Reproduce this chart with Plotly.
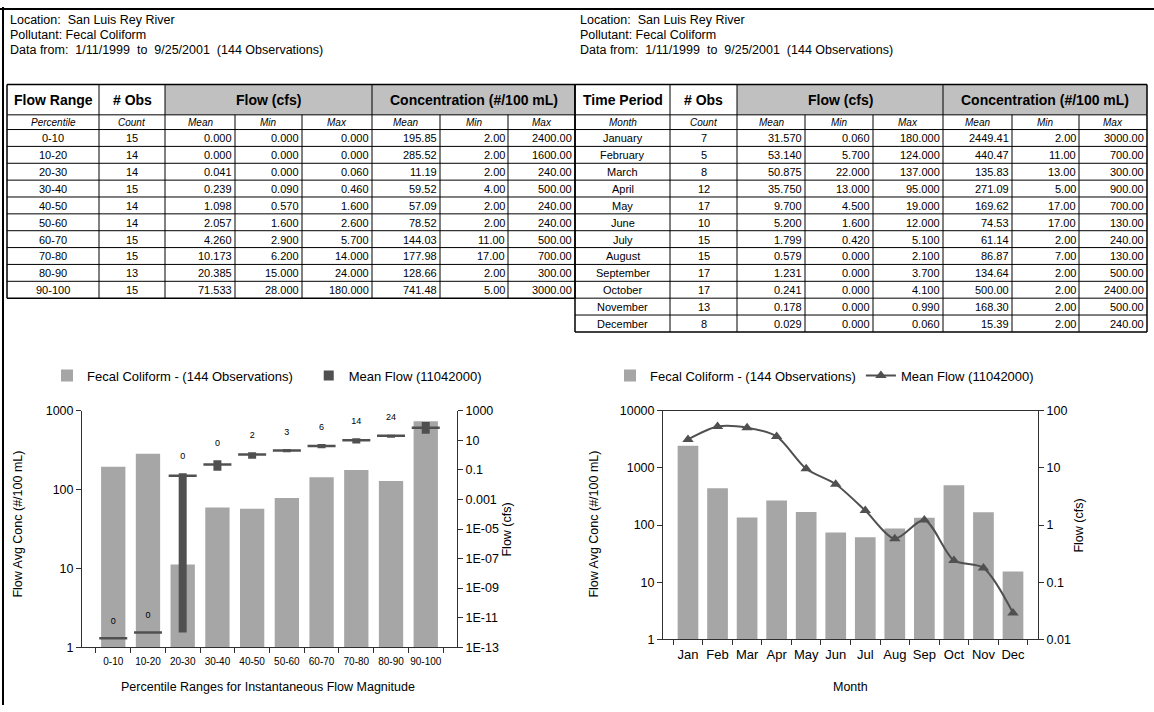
import plotly.graph_objects as go

W, H = 1154, 712
FONT = "Liberation Sans, Arial, sans-serif"

# ------------------------------------------------------------------ data
info_lines = ["Location:\u00a0 San Luis Rey River",
              "Pollutant: Fecal Coliform",
              "Data from:\u00a0 1/11/1999\u00a0 to\u00a0 9/25/2001\u00a0 (144 Observations)"]

flow_ranges = ["0-10", "10-20", "20-30", "30-40", "40-50", "50-60", "60-70", "70-80", "80-90", "90-100"]
fr_obs = [15, 14, 14, 15, 14, 14, 15, 15, 13, 15]
fr_flow_mean = [0.000, 0.000, 0.041, 0.239, 1.098, 2.057, 4.260, 10.173, 20.385, 71.533]
fr_flow_min = [0.000, 0.000, 0.000, 0.090, 0.570, 1.600, 2.900, 6.200, 15.000, 28.000]
fr_flow_max = [0.000, 0.000, 0.060, 0.460, 1.600, 2.600, 5.700, 14.000, 24.000, 180.000]
fr_conc_mean = [195.85, 285.52, 11.19, 59.52, 57.09, 78.52, 144.03, 177.98, 128.66, 741.48]
fr_conc_min = [2.00, 2.00, 2.00, 4.00, 2.00, 2.00, 11.00, 17.00, 2.00, 5.00]
fr_conc_max = [2400.00, 1600.00, 240.00, 500.00, 240.00, 240.00, 500.00, 700.00, 300.00, 3000.00]
# where a flow of 0 is drawn on the log axis
fr_zero_level = [4e-13, 1e-12, 1e-12, 1e-12, 1e-12, 1e-12, 1e-12, 1e-12, 1e-12, 1e-12]

months = ["January", "February", "March", "April", "May", "June", "July",
          "August", "September", "October", "November", "December"]
month_ticks = ["Jan", "Feb", "Mar", "Apr", "May", "Jun", "Jul", "Aug", "Sep", "Oct", "Nov", "Dec"]
m_obs = [7, 5, 8, 12, 17, 10, 15, 15, 17, 17, 13, 8]
m_flow_mean = [31.570, 53.140, 50.875, 35.750, 9.700, 5.200, 1.799, 0.579, 1.231, 0.241, 0.178, 0.029]
m_flow_min = [0.060, 5.700, 22.000, 13.000, 4.500, 1.600, 0.420, 0.000, 0.000, 0.000, 0.000, 0.000]
m_flow_max = [180.000, 124.000, 137.000, 95.000, 19.000, 12.000, 5.100, 2.100, 3.700, 4.100, 0.990, 0.060]
m_conc_mean = [2449.41, 440.47, 135.83, 271.09, 169.62, 74.53, 61.14, 86.87, 134.64, 500.00, 168.30, 15.39]
m_conc_min = [2.00, 11.00, 13.00, 5.00, 17.00, 17.00, 2.00, 7.00, 2.00, 2.00, 2.00, 2.00]
m_conc_max = [3000.00, 700.00, 300.00, 900.00, 700.00, 130.00, 240.00, 130.00, 500.00, 2400.00, 500.00, 240.00]

left_y_ticks = [1, 10, 100, 1000]
left_y2_ticks = [1e3, 1e1, 1e-1, 1e-3, 1e-5, 1e-7, 1e-9, 1e-11, 1e-13]
left_y2_labels = ["1000", "10", "0.1", "0.001", "1E-05", "1E-07", "1E-09", "1E-11", "1E-13"]
right_y_ticks = [1, 10, 100, 1000, 10000]
right_y2_ticks = [100, 10, 1, 0.1, 0.01]
right_y2_labels = ["100", "10", "1", "0.1", "0.01"]

legend_conc = "Fecal Coliform - (144 Observations)"
legend_flow = "Mean Flow (11042000)"

# ------------------------------------------------------------------ helpers
shapes = []
annotations = []


def px(x):
    return x / W


def py(y):
    return 1 - y / H


def line(x0, y0, x1, y1, width=1, color="black"):
    shapes.append(dict(type="line", xref="paper", yref="paper", x0=px(x0), y0=py(y0),
                       x1=px(x1), y1=py(y1), line=dict(color=color, width=width)))


def rect(x0, y0, x1, y1, fill):
    shapes.append(dict(type="rect", xref="paper", yref="paper", x0=px(x0), y0=py(y0),
                       x1=px(x1), y1=py(y1), fillcolor=fill, line=dict(width=0), layer="below"))


def txt(s, x, y, size=11, xanchor="center", yanchor="middle", angle=0, color="black"):
    annotations.append(dict(text=s, x=px(x), y=py(y), xref="paper", yref="paper",
                            xanchor=xanchor, yanchor=yanchor, showarrow=False, textangle=angle,
                            font=dict(family=FONT, size=size, color=color)))


# page frame
line(0, 2, W, 2, width=2)
line(3, 0, 3, H, width=2)

# info text
for x0 in (8, 578):
    for i, s in enumerate(info_lines):
        txt(s, x0, 13 + i * 15.5, size=12.5, xanchor="left")

TOP, HDR, SUB, RH = 79, 110, 125, 17.2


def draw_table(xb, title, sub, labels, obs, fmean, fmin, fmax, cmean, cmin, cmax):
    n = len(labels)
    bottom = SUB + n * RH
    rect(xb[2], TOP, xb[5], HDR, "#c0c0c0")
    rect(xb[5], TOP, xb[8], HDR, "#c0c0c0")
    # horizontal lines
    line(xb[0], TOP, xb[8], TOP, width=1.5)
    line(xb[0], HDR, xb[8], HDR)
    for r in range(n + 1):
        yy = SUB + r * RH
        line(xb[0], yy, xb[8], yy, width=1.5 if r == n else 1)
    # vertical lines
    for k in (0, 1, 2, 5, 8):
        line(xb[k], TOP, xb[k], HDR, width=1.5 if k in (0, 8) else 1)
    for k in range(9):
        line(xb[k], HDR, xb[k], bottom, width=1.5 if k in (0, 8) else 1)
    # header text
    yh = (TOP + HDR) / 2
    txt("<b>" + title + "</b>", (xb[0] + xb[1]) / 2, yh, size=14)
    txt("<b># Obs</b>", (xb[1] + xb[2]) / 2, yh, size=14)
    txt("<b>Flow (cfs)</b>", (xb[2] + xb[5]) / 2, yh, size=14)
    txt("<b>Concentration (#/100 mL)</b>", (xb[5] + xb[8]) / 2, yh, size=14)
    ys = (HDR + SUB) / 2
    subs = [sub, "Count", "Mean", "Min", "Max", "Mean", "Min", "Max"]
    for k, s in enumerate(subs):
        txt("<i>" + s + "</i>", (xb[k] + xb[k + 1]) / 2, ys, size=10)
    for r in range(n):
        yc = SUB + r * RH + RH / 2 + 0.5
        txt(labels[r], (xb[0] + xb[1]) / 2, yc, size=11)
        txt(str(obs[r]), (xb[1] + xb[2]) / 2, yc, size=11)
        vals = [f"{fmean[r]:.3f}", f"{fmin[r]:.3f}", f"{fmax[r]:.3f}",
                f"{cmean[r]:.2f}", f"{cmin[r]:.2f}", f"{cmax[r]:.2f}"]
        for k, v in enumerate(vals):
            txt(v, xb[k + 3] - 1, yc, size=11, xanchor="right")


draw_table([7, 99, 165, 235, 302, 372, 440, 508, 575], "Flow Range", "Percentile", flow_ranges, fr_obs,
           fr_flow_mean, fr_flow_min, fr_flow_max, fr_conc_mean, fr_conc_min, fr_conc_max)
draw_table([575, 670, 737, 805, 873, 943, 1012, 1079, 1147], "Time Period", "Month", months, m_obs,
           m_flow_mean, m_flow_min, m_flow_max, m_conc_mean, m_conc_min, m_conc_max)

# ------------------------------------------------------------------ charts
BAR = "#a6a6a6"
DARK = "#505050"
fig = go.Figure()

fig.add_trace(go.Bar(x=flow_ranges, y=fr_conc_mean, marker=dict(color=BAR, line=dict(width=0)),
                     name=legend_conc + "\u00a0\u00a0\u00a0", xaxis="x", yaxis="y", legend="legend",
                     hoverinfo="skip"))


def fplot(v, i):
    return v if v > 0 else fr_zero_level[i]


seg_x, seg_y = [], []
for i, c in enumerate(flow_ranges):
    if fr_flow_max[i] > fr_flow_min[i]:
        seg_x += [c, c, None]
        seg_y += [fplot(fr_flow_min[i], i), fplot(fr_flow_max[i], i), None]
fig.add_trace(go.Scatter(x=seg_x, y=seg_y, mode="lines", line=dict(color=DARK, width=8),
                         xaxis="x", yaxis="y2", showlegend=False, hoverinfo="skip"))
fig.add_trace(go.Scatter(x=flow_ranges, y=[fplot(v, i) for i, v in enumerate(fr_flow_mean)],
                         mode="markers", marker=dict(symbol="line-ew", size=20, color=DARK,
                                                     line=dict(color=DARK, width=2.5)),
                         xaxis="x", yaxis="y2", showlegend=False, hoverinfo="skip"))
fig.add_trace(go.Scatter(x=flow_ranges, y=[fplot(v, i) for i, v in enumerate(fr_flow_max)],
                         mode="markers+text", text=[f"{round(v):.0f}" for v in fr_flow_max],
                         textposition="top center", textfont=dict(family=FONT, size=9, color="black"),
                         marker=dict(size=18, opacity=0), xaxis="x", yaxis="y2",
                         showlegend=False, hoverinfo="skip"))
fig.add_trace(go.Scatter(x=[None], y=[None], mode="markers", name=legend_flow,
                         marker=dict(symbol="square", size=10, color=DARK),
                         xaxis="x", yaxis="y2", legend="legend"))

fig.add_trace(go.Bar(x=month_ticks, y=m_conc_mean, marker=dict(color=BAR, line=dict(width=0)),
                     name=legend_conc, xaxis="x2", yaxis="y3", legend="legend2", hoverinfo="skip"))
fig.add_trace(go.Scatter(x=month_ticks, y=m_flow_mean, mode="lines+markers", name=legend_flow,
                         line=dict(color=DARK, width=2, shape="spline", smoothing=0.8),
                         marker=dict(symbol="triangle-up", size=10, color=DARK),
                         xaxis="x2", yaxis="y4", legend="legend2", hoverinfo="skip"))

# axis titles
txt("Flow Avg Conc (#/100 mL)", 18, 528, size=12.5, angle=-90)
txt("Flow (cfs)", 507, 533, size=12.5, angle=-90)
txt("Percentile Ranges for Instantaneous Flow Magnitude", 268, 694, size=12.5)
txt("Flow Avg Conc (#/100 mL)", 594, 528, size=12.5, angle=-90)
txt("Flow (cfs)", 1079, 529, size=12.5, angle=-90)
txt("Month", 850, 694, size=12.5)

AX = "#303030"
common_y = dict(type="log", showgrid=False, zeroline=False, showline=True, linecolor=AX, linewidth=1,
                ticks="outside", ticklen=5, tickcolor=AX, tickfont=dict(family=FONT, size=12.5, color="black"))
common_x = dict(type="category", showgrid=False, zeroline=False, showline=True, linecolor=AX, linewidth=1,
                ticks="outside", ticklen=5, tickcolor=AX, tickson="boundaries", tickangle=0)

fig.update_layout(
    width=W, height=H, autosize=False,
    margin=dict(l=0, r=0, t=0, b=0),
    paper_bgcolor="white", plot_bgcolor="white",
    font=dict(family=FONT, color="black"),
    shapes=shapes, annotations=annotations,
    bargap=0.3,
    xaxis=dict(common_x, domain=[px(82), px(457)], anchor="y", ticklabelstandoff=5,
               tickfont=dict(family=FONT, size=10, color="black")),
    yaxis=dict(common_y, domain=[py(653), py(412)], anchor="x", range=[0, 3],
               tickvals=left_y_ticks, ticktext=[str(v) for v in left_y_ticks]),
    yaxis2=dict(common_y, overlaying="y", side="right", anchor="x", range=[-13, 3],
                tickvals=left_y2_ticks, ticktext=left_y2_labels),
    xaxis2=dict(common_x, domain=[px(663), px(1038)], anchor="y3", mirror=True, ticklabelstandoff=3,
                tickfont=dict(family=FONT, size=13, color="black")),
    yaxis3=dict(common_y, domain=[py(645), py(412)], anchor="x2", range=[0, 4],
                tickvals=right_y_ticks, ticktext=[str(v) for v in right_y_ticks]),
    yaxis4=dict(common_y, overlaying="y3", side="right", anchor="x2", range=[-2, 2],
                tickvals=right_y2_ticks, ticktext=right_y2_labels),
    legend=dict(orientation="h", x=px(47), y=py(376), xanchor="left", yanchor="middle",
                font=dict(family=FONT, size=13), bgcolor="rgba(0,0,0,0)", traceorder="normal"),
    legend2=dict(orientation="h", x=px(610), y=py(376), xanchor="left", yanchor="middle",
                 font=dict(family=FONT, size=13), bgcolor="rgba(0,0,0,0)", traceorder="normal"),
)

fig.write_html("out.html", config={"displayModeBar": False},
               post_script="document.body.style.margin='0';document.body.style.overflow='hidden';")
